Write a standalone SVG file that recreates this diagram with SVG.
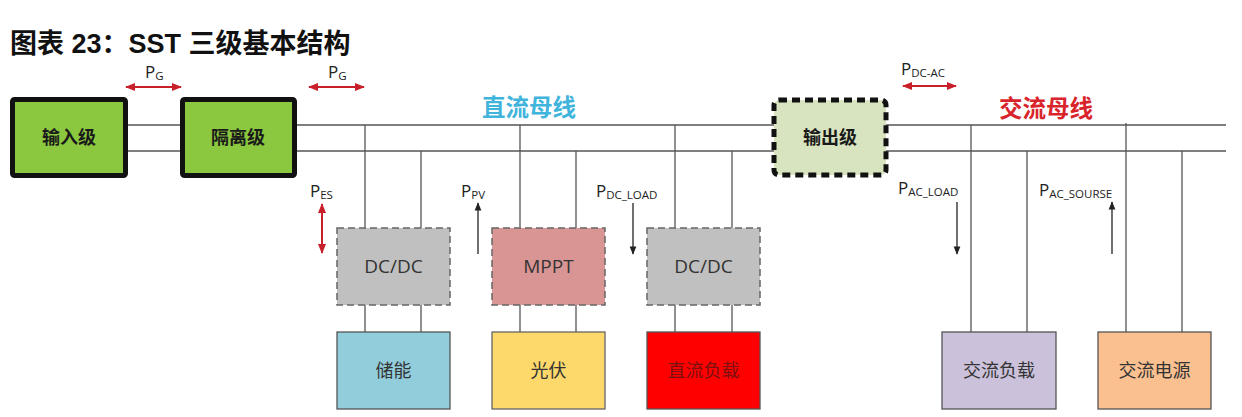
<svg xmlns="http://www.w3.org/2000/svg" width="1242" height="417" viewBox="0 0 1242 417">
<style>
.title{font-family:"Liberation Sans","Noto Sans CJK SC",sans-serif;font-weight:bold;font-size:27px;fill:#111}
.stage{font-family:"Noto Sans CJK SC",sans-serif;font-weight:bold;font-size:18px;fill:#1a1a1a}
.lbl{font-family:"Open Sans","Noto Sans CJK SC",sans-serif;font-size:19px;fill:#333}
.cn{font-family:"Noto Sans CJK SC",sans-serif;font-size:18px;fill:#333}
.p{font-family:"Open Sans",sans-serif;font-size:17px;fill:#222}
.sub{font-size:11.5px}
.bus{stroke:#555;stroke-width:1.5;fill:none}
.v{stroke:#555;stroke-width:1.3;fill:none}
.red{stroke:#c8202a;stroke-width:2;fill:none}
.blk{stroke:#222;stroke-width:1.3;fill:none}
.dash{stroke:#666;stroke-width:1.5;stroke-dasharray:7 4}
.bl{font-family:"Noto Sans CJK SC",sans-serif;font-weight:bold;font-size:23.5px}
</style>
<defs>
<marker id="ra" viewBox="0 0 10 10" refX="9" refY="5" markerWidth="5" markerHeight="5" orient="auto-start-reverse" markerUnits="strokeWidth"><path d="M0,1 L10,5 L0,9 z" fill="#c8202a"/></marker>
<marker id="ba" viewBox="0 0 10 10" refX="9" refY="5" markerWidth="6.5" markerHeight="6.5" orient="auto" markerUnits="strokeWidth"><path d="M0,1 L10,5 L0,9 z" fill="#222"/></marker>
</defs>
<rect width="1242" height="417" fill="#fff"/>
<text class="title" x="10" y="53">图表 23：SST 三级基本结构</text>

<g id="connectors">
<line class="bus" x1="128" y1="125" x2="1226" y2="125"/>
<line class="bus" x1="128" y1="151" x2="1226" y2="151"/>
<line class="v" x1="365" y1="125" x2="365" y2="228" stroke="#888"/>
<line class="v" x1="421" y1="151" x2="421" y2="228"/>
<line class="v" x1="520" y1="125" x2="520" y2="228"/>
<line class="v" x1="576" y1="151" x2="576" y2="228"/>
<line class="v" x1="675" y1="125" x2="675" y2="228"/>
<line class="v" x1="732" y1="151" x2="732" y2="228"/>
<line class="v" x1="365" y1="305" x2="365" y2="332" stroke="#888"/>
<line class="v" x1="421" y1="305" x2="421" y2="332"/>
<line class="v" x1="520" y1="305" x2="520" y2="332"/>
<line class="v" x1="576" y1="305" x2="576" y2="332"/>
<line class="v" x1="675" y1="305" x2="675" y2="332"/>
<line class="v" x1="732" y1="305" x2="732" y2="332"/>
<line class="v" x1="971" y1="125" x2="971" y2="332" stroke="#888"/>
<line class="v" x1="1027" y1="151" x2="1027" y2="332"/>
<line class="v" x1="1126" y1="123" x2="1126" y2="332"/>
<line class="v" x1="1182" y1="151" x2="1182" y2="332"/>
<line class="red" x1="126" y1="87" x2="181" y2="87" marker-start="url(#ra)" marker-end="url(#ra)"/>
<line class="red" x1="309" y1="87" x2="364" y2="87" marker-start="url(#ra)" marker-end="url(#ra)"/>
<line class="red" x1="903" y1="86" x2="956" y2="86" marker-start="url(#ra)" marker-end="url(#ra)"/>
<line class="red" x1="322" y1="204" x2="322" y2="253" marker-start="url(#ra)" marker-end="url(#ra)"/>
<line class="blk" x1="478" y1="254" x2="478" y2="203" marker-end="url(#ba)"/>
<line class="blk" x1="633" y1="203" x2="633" y2="254" marker-end="url(#ba)"/>
<line class="blk" x1="957" y1="202" x2="957" y2="254" marker-end="url(#ba)"/>
<line class="blk" x1="1112" y1="254" x2="1112" y2="202" marker-end="url(#ba)"/>
</g>

<g id="labels">
<text class="p" x="145" y="78">P<tspan class="sub" dy="2">G</tspan></text>
<text class="p" x="328" y="78">P<tspan class="sub" dy="2">G</tspan></text>
<text class="p" x="901" y="75">P<tspan class="sub" dy="2">DC-AC</tspan></text>
<text class="p" x="310" y="197">P<tspan class="sub" dy="2">ES</tspan></text>
<text class="p" x="461" y="197">P<tspan class="sub" dy="2">PV</tspan></text>
<text class="p" x="596" y="197">P<tspan class="sub" dy="2">DC_LOAD</tspan></text>
<text class="p" x="898" y="194">P<tspan class="sub" dy="2">AC_LOAD</tspan></text>
<text class="p" x="1039" y="196">P<tspan class="sub" dy="2">AC_SOURSE</tspan></text>
<text class="bl" x="482" y="116" fill="#41b4dc">直流母线</text>
<text class="bl" x="999" y="117" fill="#d9242c">交流母线</text>
</g>

<g id="input-stage">
<rect x="12.5" y="99.5" width="113" height="76" rx="2" fill="#8cc83f" stroke="#111" stroke-width="5"/>
<text class="stage" x="69" y="144" text-anchor="middle">输入级</text>
</g>
<g id="isolation-stage">
<rect x="182.5" y="99.5" width="112" height="76" rx="2" fill="#8cc83f" stroke="#111" stroke-width="5"/>
<text class="stage" x="238" y="144" text-anchor="middle">隔离级</text>
</g>
<g id="output-stage">
<rect x="774" y="100" width="112" height="75" rx="5" fill="#d8e4bf" stroke="#111" stroke-width="5" stroke-dasharray="8 5"/>
<text class="stage" x="830" y="144" text-anchor="middle">输出级</text>
</g>

<g id="dcdc-es">
<rect x="337" y="228" width="113" height="77" fill="#c0c0c0" class="dash"/>
<text class="lbl" x="393.5" y="273" text-anchor="middle">DC/DC</text>
</g>
<g id="mppt">
<rect x="492" y="228" width="113" height="77" fill="#d99594" class="dash"/>
<text class="lbl" x="548.5" y="273" text-anchor="middle">MPPT</text>
</g>
<g id="dcdc-load">
<rect x="647" y="228" width="113" height="77" fill="#c0c0c0" class="dash"/>
<text class="lbl" x="703.5" y="273" text-anchor="middle">DC/DC</text>
</g>

<g id="storage">
<rect x="337" y="332" width="113" height="77" fill="#92cddc" stroke="#555" stroke-width="1.3"/>
<text class="cn" x="393.5" y="377" text-anchor="middle">储能</text>
</g>
<g id="pv">
<rect x="492" y="332" width="113" height="77" fill="#fdd86b" stroke="#666" stroke-width="1.3"/>
<text class="cn" x="548.5" y="377" text-anchor="middle">光伏</text>
</g>
<g id="dc-load">
<rect x="647" y="332" width="113" height="77" fill="#ff0000" stroke="#555" stroke-width="1.3"/>
<text class="cn" x="703.5" y="377" text-anchor="middle" style="fill:#7a1010">直流负载</text>
</g>
<g id="ac-load">
<rect x="942" y="332" width="114" height="77" fill="#ccc1da" stroke="#555" stroke-width="1.3"/>
<text class="cn" x="999" y="377" text-anchor="middle">交流负载</text>
</g>
<g id="ac-source">
<rect x="1098" y="332" width="113" height="77" fill="#fac090" stroke="#555" stroke-width="1.3"/>
<text class="cn" x="1154.5" y="377" text-anchor="middle">交流电源</text>
</g>
</svg>
